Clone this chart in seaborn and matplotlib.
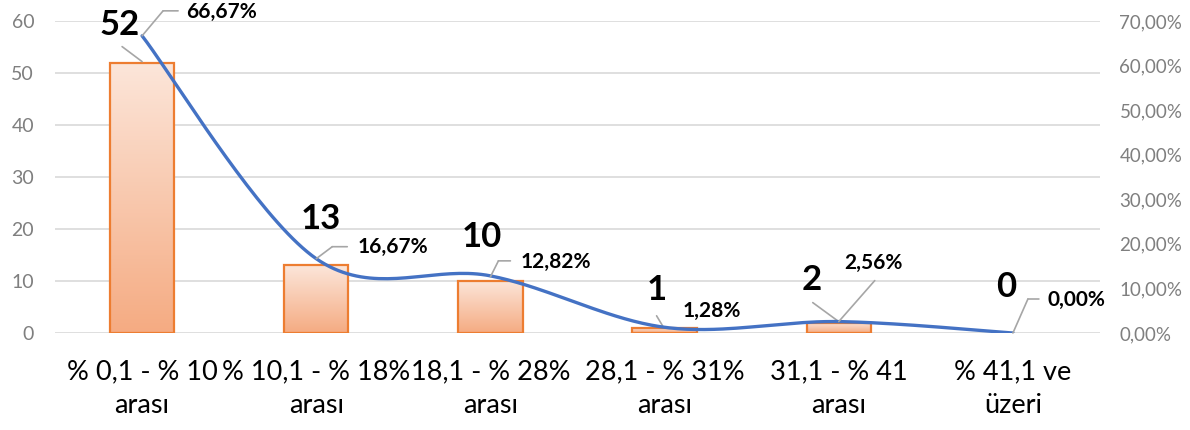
import numpy as np
import matplotlib
matplotlib.use("Agg")
import matplotlib.pyplot as plt
import matplotlib.transforms as mtransforms
from matplotlib.colors import LinearSegmentedColormap
from matplotlib.ticker import FuncFormatter
import seaborn as sns

categories = ["% 0,1 - % 10\narası", "% 10,1 - % 18%\narası", "18,1 - % 28%\narası",
              "28,1 - % 31%\narası", "31,1 - % 41\narası", "% 41,1 ve\nüzeri"]
counts = [52, 13, 10, 1, 2, 0]
shares = [66.67, 16.67, 12.82, 1.28, 2.56, 0.00]
count_labels = ["52", "13", "10", "1", "2", "0"]
share_labels = ["66,67%", "16,67%", "12,82%", "1,28%", "2,56%", "0,00%"]

# label placement, in pixels from the anchor point
count_offsets = [(-22, 38), (5, 46), (-9, 44), (-8, 38), (-27, 43), (-7, 46)]
count_leaders = [[(0, 1), (-20, 16)], None, None, [(-2, 2), (-8, 12)], [(0, 1), (-26, 20)], None]
share_offsets = [(44, 24), (41, 12), (30, 14), (18, 16), (6, 59), (35, 33)]
share_leaders = [[(0, 0), (21, 25), (36, 25)], [(0, 0), (16, 12), (31, 12)],
                 [(0, -1), (8, 15), (20, 15)], None, [(0, 0), (36, 41)],
                 [(0, 0), (15, 34), (26, 34)]]

sns.set_style("white")
plt.rcParams["font.family"] = ["Lato", "DejaVu Sans"]

fig = plt.figure(figsize=(11.9, 4.3), dpi=100)
ax = fig.add_axes([55 / 1190, 1 - 333 / 430, 1045 / 1190, 312 / 430])

sns.barplot(x=categories, y=counts, ax=ax, width=0.37, color="#f8c8a8",
            edgecolor="#ed7d31", linewidth=1.6, zorder=3)

# vertical gradient inside each bar
cmap = LinearSegmentedColormap.from_list("bar", ["#f5ab82", "#fce6da"])
grad = np.linspace(0, 1, 256).reshape(-1, 1)
for p in ax.patches:
    if p.get_height() <= 0:
        p.set_visible(False)
        continue
    p.set_facecolor("none")
    x0, w, h = p.get_x(), p.get_width(), p.get_height()
    im = ax.imshow(grad, extent=[x0, x0 + w, 0, h], origin="lower", cmap=cmap,
                   aspect="auto", zorder=2.5)
    im.set_clip_path(p)

ax.set_xlim(-0.5, 5.5)
ax.set_ylim(0, 60)
ax.set_yticks(range(0, 61, 10))
ax.yaxis.grid(True, color="#d9d9d9", linewidth=1.2)
ax.set_axisbelow(True)
for s in ax.spines.values():
    s.set_visible(False)
ax.tick_params(axis="y", length=0, pad=15, labelsize=14, labelcolor="#7f7f7f")
ax.tick_params(axis="x", length=0, pad=19, labelsize=19.5, labelcolor="black")
ax.set_xlabel("")
ax.set_ylabel("")
for t in ax.get_xticklabels():
    t.set_linespacing(1.45)

ax2 = ax.twinx()
ax2.set_ylim(0, 70)
ax2.set_yticks(range(0, 71, 10))
ax2.yaxis.set_major_formatter(FuncFormatter(lambda v, _: f"{v:.2f}%".replace(".", ",")))
ax2.tick_params(axis="y", length=0, pad=14, labelsize=13.5, labelcolor="#7f7f7f")
for s in ax2.spines.values():
    s.set_visible(False)

# smoothed line (Catmull-Rom through the share points)
xs = np.arange(len(shares), dtype=float)
ys = np.array(shares, dtype=float)
px = np.concatenate([[xs[0]], xs, [xs[-1]]])
py = np.concatenate([[ys[0]], ys, [ys[-1]]])
sx, sy = [], []
t = np.linspace(0, 1, 40)
for i in range(1, len(px) - 2):
    p0, p1, p2, p3 = [np.array([px[j], py[j]]) for j in (i - 1, i, i + 1, i + 2)]
    c1 = p1 + (p2 - p0) / 6
    c2 = p2 - (p3 - p1) / 6
    pts = ((1 - t) ** 3)[:, None] * p1 + (3 * (1 - t) ** 2 * t)[:, None] * c1 \
        + (3 * (1 - t) * t ** 2)[:, None] * c2 + (t ** 3)[:, None] * p2
    sx.extend(pts[:, 0])
    sy.extend(pts[:, 1])
ax2.plot(sx, sy, color="#4472c4", linewidth=2.4, zorder=4, solid_capstyle="round")


def leader(axis, x, y, pts):
    for (ax0, ay0), (ax1, ay1) in zip(pts[:-1], pts[1:]):
        tr = mtransforms.offset_copy(axis.transData, fig=fig, x=ax0, y=ay0, units="dots")
        axis.annotate("", xy=(x, y), xycoords=tr, xytext=(ax1 - ax0, ay1 - ay0),
                      textcoords="offset pixels",
                      arrowprops=dict(arrowstyle="-", color="#a6a6a6", lw=1.2,
                                      shrinkA=0, shrinkB=0), zorder=5)


for i, (c, lab) in enumerate(zip(counts, count_labels)):
    ax.annotate(lab, xy=(i, c), xytext=count_offsets[i], textcoords="offset pixels",
                ha="center", va="center", fontsize=25, fontweight="bold", color="black")
    if count_leaders[i]:
        leader(ax, i, c, count_leaders[i])

for i, (s, lab) in enumerate(zip(shares, share_labels)):
    ha = "center" if i == 4 else "left"
    dx, dy = share_offsets[i]
    if i == 4:
        dx += 29
    ax2.annotate(lab, xy=(i, s), xytext=(dx, dy), textcoords="offset pixels",
                 ha=ha, va="center", fontsize=15, fontweight="bold", color="black")
    if share_leaders[i]:
        leader(ax2, i, s, share_leaders[i])

fig.savefig("out.png", dpi=100)
